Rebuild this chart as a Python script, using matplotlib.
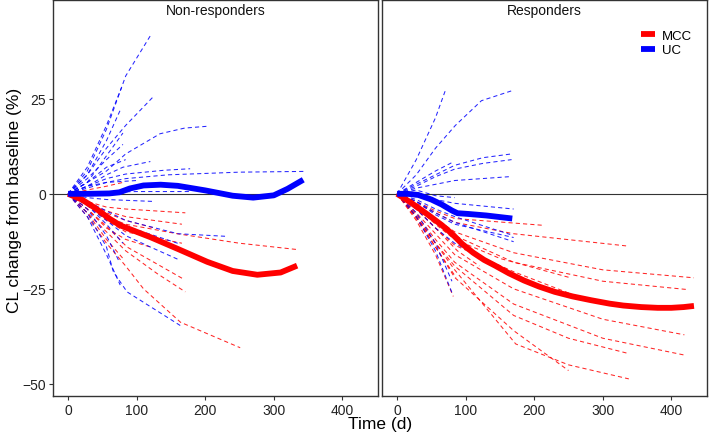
import matplotlib
matplotlib.use("Agg")
import matplotlib.pyplot as plt

plt.rcParams["font.family"] = ["Liberation Sans", "DejaVu Sans"]

# individual trajectories: (day, % change) points per patient
nr_uc_lines = [
    [(0, 0), (28, 6), (56, 17), (84, 31), (120, 41.6)],
    [(0, 0), (28, 7), (56, 18), (78, 28)],
    [(0, 0), (28, 5), (56, 12), (84, 18), (124, 25.5)],
    [(0, 0), (28, 3), (56, 6), (84, 10.5), (134, 15.8), (170, 17.3), (205, 17.8)],
    [(0, 0), (28, 4), (56, 9), (80, 13)],
    [(0, 0), (28, 5), (56, 14), (76, 22)],
    [(0, 0), (28, 3), (56, 10), (80, 16)],
    [(0, 0), (28, 2), (56, 5), (80, 7), (120, 8.5)],
    [(0, 0), (28, 2), (56, 4), (84, 5.2), (140, 6.2), (178, 6.6)],
    [(0, 0), (28, 1.5), (56, 3), (84, 4), (146, 5), (250, 5.7), (346, 5.9)],
    [(0, 0), (28, 3), (56, 7), (84, 9)],
    [(0, 0), (28, 2), (56, 3), (100, 3.5)],
    [(0, 0), (56, 0.4), (100, 0.6), (180, 0.6)],
    [(0, 0), (28, -1), (56, -1.5), (124, -2)],
    [(0, 0), (28, -2), (56, -4.5), (84, -7), (160, -10.5), (232, -11.2)],
    [(0, 0), (28, -2.5), (56, -5.5), (84, -8.5), (163, -13.2)],
    [(0, 0), (28, -3), (56, -7), (84, -11), (120, -14), (161, -17.3)],
    [(0, 0), (28, -5), (56, -14), (66, -20.5), (86, -25.8), (164, -34.7)],
    [(0, 0), (28, -4), (56, -11), (75, -18)],
    [(0, 0), (28, -6), (56, -16), (76, -24)],
    [(0, 0), (28, -3), (56, -8), (80, -13)],
]
nr_mcc_lines = [
    [(0, 0), (28, 1), (56, 2), (80, 3)],
    [(0, 0), (28, -2), (56, -3.5), (84, -4), (171, -5)],
    [(0, 0), (28, -2.5), (56, -4.5), (84, -6), (166, -8)],
    [(0, 0), (28, -3), (56, -6), (84, -8), (159, -10.5), (250, -13), (336, -14.7)],
    [(0, 0), (28, -4), (56, -8.5), (86, -14), (130, -18.5), (168, -22.4)],
    [(0, 0), (28, -5), (56, -10), (84, -15), (130, -21), (171, -25.8)],
    [(0, 0), (28, -6), (56, -13), (84, -19), (110, -25), (164, -33.8), (251, -40.5)],
    [(0, 0), (28, -3), (56, -7), (84, -10), (166, -13)],
    [(0, 0), (28, -5), (56, -12), (80, -17)],
    [(0, 0), (28, -4), (56, -9), (84, -12), (120, -14)],
    [(0, 0), (28, -2), (56, -5), (84, -7), (126, -9)],
]
r_uc_lines = [
    [(0, 0), (28, 5), (56, 12), (85, 18), (123, 24.5), (167, 27.1)],
    [(0, 0), (28, 9), (56, 20), (70, 27)],
    [(0, 0), (28, 2.5), (56, 5), (84, 7.5), (125, 9.5), (167, 10.5)],
    [(0, 0), (28, 2), (56, 4.5), (84, 6.5), (125, 8), (167, 9)],
    [(0, 0), (28, 1.5), (56, 2.5), (84, 3.5), (163, 4.5)],
    [(0, 0), (28, 3), (56, 6), (82, 8.4)],
    [(0, 0), (28, 1), (56, -0.5), (84, -1)],
    [(0, 0), (28, -0.5), (56, -1.5), (84, -2.5), (170, -4)],
    [(0, 0), (28, -1.5), (56, -4), (84, -6), (165, -10.7)],
    [(0, 0), (28, -2), (56, -5), (84, -7.5), (170, -12.6)],
    [(0, 0), (28, -2), (56, -5.5), (84, -8), (170, -11.5)],
    [(0, 0), (28, -4), (56, -9), (84, -13), (163, -20.5)],
    [(0, 0), (28, -6), (56, -15), (80, -26)],
    [(0, 0), (28, -5), (56, -13), (80, -23)],
]
r_mcc_lines = [
    [(0, 0), (28, -2), (56, -4.5), (84, -6.5), (214, -8.3)],
    [(0, 0), (28, -2.5), (56, -5), (84, -7.5), (170, -10.5), (334, -13.7)],
    [(0, 0), (28, -3), (56, -6.5), (84, -10), (170, -15.5), (300, -20), (433, -22.1)],
    [(0, 0), (28, -3.5), (56, -7.5), (84, -11), (170, -18), (300, -23), (424, -25.2)],
    [(0, 0), (28, -3.5), (56, -8), (84, -12), (150, -17), (253, -22.1)],
    [(0, 0), (28, -4), (56, -9), (84, -13.5), (170, -20.5), (253, -26.3)],
    [(0, 0), (28, -5), (56, -10.5), (84, -16), (170, -25), (300, -33), (419, -37.1)],
    [(0, 0), (28, -5.5), (56, -12), (84, -18), (170, -29), (300, -38), (421, -42.5)],
    [(0, 0), (28, -6), (56, -13), (84, -20), (173, -39.5), (250, -45), (338, -48.7)],
    [(0, 0), (28, -6.5), (56, -14), (84, -22), (170, -36), (250, -46.5)],
    [(0, 0), (28, -6), (56, -13), (84, -19), (170, -32), (250, -38), (337, -42)],
    [(0, 0), (28, -7), (56, -16), (82, -27)],
    [(0, 0), (28, -6), (56, -14), (86, -22)],
    [(0, 0), (28, -4), (56, -9), (88, -15), (120, -19)],
]

# group mean curves
nr_uc_days = [0, 30, 60, 75, 90, 110, 135, 160, 200, 240, 270, 300, 320, 343]
nr_uc_mean = [0, 0, 0.1, 0.4, 1.4, 2.2, 2.4, 2.1, 0.9, -0.5, -1.0, -0.4, 1.3, 3.7]
nr_mcc_days = [0, 20, 40, 60, 76, 100, 120, 160, 203, 240, 276, 310, 334]
nr_mcc_mean = [0, -1.5, -3.8, -6.5, -8.3, -10, -11.4, -14.5, -17.9, -20.3, -21.3, -20.7, -18.9]
r_uc_days = [0, 15, 31, 50, 65, 80, 88, 104, 130, 168]
r_uc_mean = [0, 0, -0.3, -1.5, -2.8, -4.4, -5.1, -5.3, -5.7, -6.5]
r_mcc_days = [0, 20, 45, 65, 80, 95, 111, 127, 143, 163, 185, 207, 230, 256,
              283, 310, 330, 356, 380, 400, 418, 433]
r_mcc_mean = [0, -2.3, -5.5, -8.2, -10.5, -13.2, -15.5, -17.4, -18.9, -20.9, -22.8,
              -24.4, -25.8, -27.0, -28.0, -28.9, -29.4, -29.8, -30.0, -30.0, -29.8, -29.5]

panels = ["Non-responders", "Responders"]
x_ticks = [0, 100, 200, 300, 400]
y_ticks = [-50, -25, 0, 25]

RED = "#FF0000"
BLUE = "#0000FF"

fig = plt.figure(figsize=(7.09, 4.35), dpi=100)
W, H = 709, 435
axes = [fig.add_axes([53 / W, 1 - 397 / H, 325 / W, 396 / H]),
        fig.add_axes([382 / W, 1 - 397 / H, 325 / W, 396 / H])]

data = [
    (nr_uc_lines, nr_mcc_lines, (nr_uc_days, nr_uc_mean), (nr_mcc_days, nr_mcc_mean)),
    (r_uc_lines, r_mcc_lines, (r_uc_days, r_uc_mean), (r_mcc_days, r_mcc_mean)),
]

for i, (ax, title, (uc, mcc, ucm, mccm)) in enumerate(zip(axes, panels, data)):
    ax.axhline(0, color="#333333", lw=0.8, zorder=1)
    for grp, col in ((mcc, RED), (uc, BLUE)):
        for line in grp:
            xs, ys = zip(*line)
            ax.plot(xs, ys, color=col, lw=0.75, ls=(0, (4, 3)), alpha=0.85, zorder=2)
    ax.plot(*mccm, color=RED, lw=4.2, solid_capstyle="butt",
            solid_joinstyle="round", zorder=3, label="MCC")
    ax.plot(*ucm, color=BLUE, lw=4.2, solid_capstyle="butt",
            solid_joinstyle="round", zorder=3, label="UC")
    ax.set_xlim(-22, 452)
    ax.set_ylim(-53.2, 51)
    ax.set_xticks(x_ticks)
    ax.set_yticks(y_ticks)
    ax.tick_params(direction="out", length=3, width=0.8, color="#333333",
                   labelsize=10, labelcolor="#222222", pad=2)
    for s in ax.spines.values():
        s.set_color("#333333")
        s.set_linewidth(1.0)
    ax.text(0.5, 0.993, title, transform=ax.transAxes, ha="center", va="top",
            fontsize=10, color="#111111")
    if i == 1:
        ax.tick_params(axis="y", left=False, labelleft=False)
        ax.legend(loc="upper right", bbox_to_anchor=(0.99, 0.955), frameon=False,
                  handlelength=1.1, handletextpad=0.5, labelspacing=0.15,
                  fontsize=9.5)

fig.text(15 / W, 1 - 200 / H, "CL change from baseline (%)", rotation=90,
         ha="center", va="center", fontsize=12.5)
fig.text(380 / W, 1 - 425 / H, "Time (d)", ha="center", va="center", fontsize=12.5)

fig.savefig("out.png", dpi=100)
